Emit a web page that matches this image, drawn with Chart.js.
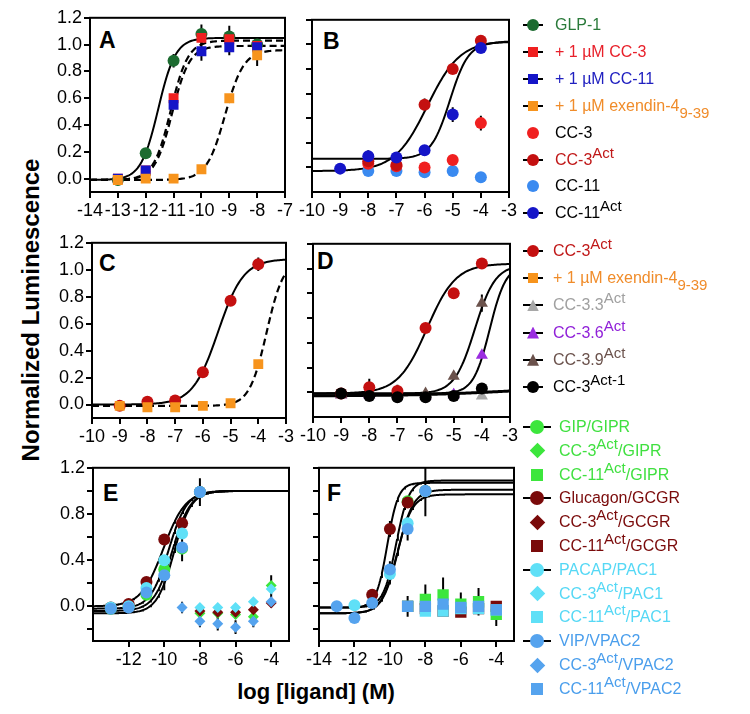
<!DOCTYPE html>
<html>
<head>
<meta charset="utf-8">
<script src="https://cdn.jsdelivr.net/npm/chart.js@4.4.1/dist/chart.umd.min.js"></script>
<style>
  body { margin: 0; background: #fff; width: 750px; height: 714px; position: relative; overflow: hidden;
         font-family: "Liberation Sans", Arial, sans-serif; }
  .letter { position: absolute; font-weight: bold; font-size: 23px; line-height: 23px; }
  .leg { position: absolute; font-size: 16px; line-height: 20px; white-space: nowrap; }
  .leg sup { font-size: 15px; vertical-align: 7px; line-height: 0; }
  .leg sub { font-size: 15px; vertical-align: -7px; line-height: 0; }
  .ln { position: absolute; height: 2px; background: #000; }
  .mk { position: absolute; }
  .title { position: absolute; font-weight: bold; font-size: 22px; white-space: nowrap; transform: translate(-50%, -50%); }
</style>
</head>
<body>
<div class="title" style="left:31px;top:310px;font-size:24px;transform:translate(-50%,-50%) rotate(-90deg)">Normalized Luminescence</div>
<div class="title" style="left:316px;top:692px">log [ligand] (M)</div>
<div class="letter" style="left:99px;top:29px">A</div>
<div class="letter" style="left:323px;top:30px">B</div>
<div class="letter" style="left:99px;top:252px">C</div>
<div class="letter" style="left:317px;top:250px">D</div>
<div class="letter" style="left:103px;top:482px">E</div>
<div class="letter" style="left:327px;top:482px">F</div>
<script>
/* colours */
const C_GLP = "#1c6b30", C_RED = "#f02020", C_BLUE = "#1515c8", C_ORANGE = "#f7941d";
const C_ACT = "#c41010", C_LBLUE = "#3a8af0", C_GRAY = "#a8a8a8", C_PURPLE = "#9b2de0";
const C_BROWN = "#6b524c", C_GIP = "#3ce63c", C_GCG = "#7a0a0a", C_PAC = "#5fe0f7", C_VIP = "#55a3ee";
const FONT = '"Liberation Sans", Arial, sans-serif';

/* tick values */
const xTicksA = [-14, -13, -12, -11, -10, -9, -8, -7];
const xTicksB = [-10, -9, -8, -7, -6, -5, -4, -3];
const xTicksE = [-12, -10, -8, -6, -4];
const xTicksF = [-14, -12, -10, -8, -6, -4];
const yTicksTop = [0, 0.2, 0.4, 0.6, 0.8, 1.0, 1.2];
const yTicksBot = [-0.2, 0, 0.2, 0.4, 0.6, 0.8, 1.0, 1.2];
const yLabelsE = [0, 0.4, 0.8, 1.2];

/* panel A: GLP-1R, agonist +/- antagonists */
const xA = [-13, -12, -11, -10, -9, -8];
const glp1A = [-0.01, 0.19, 0.88, 1.08, 1.06, 1.00];
const glp1ErrA = [0, 0, 0.05, 0.07, 0.08, 0.03];
const cc3sqA = [0.0, 0.06, 0.60, 1.05, 1.04, 0.99];
const cc3sqErrA = [0, 0, 0.03, 0.05, 0.05, 0.02];
const cc11sqA = [0.0, 0.06, 0.55, 0.95, 0.98, 0.98];
const cc11sqErrA = [0, 0, 0.03, 0.07, 0.06, 0.02];
const exA = [-0.01, 0.0, 0.0, 0.07, 0.60, 0.92];
const exErrA = [0, 0, 0, 0, 0.02, 0.08];
// fit params: bottom, top, logEC50, hill
const fitGlp1A = [-0.01, 1.05, -11.55, 1.4];
const fitCc3A = [-0.01, 1.03, -11.1, 1.4];
const fitCc11A = [-0.01, 0.99, -11.05, 1.4];
const fitExA = [-0.01, 0.96, -9.15, 1.3];

/* panel B */
const xB = [-9, -8, -7, -6, -5, -4];
const cc11B = [null, -0.03, -0.03, -0.04, -0.03, -0.08];
const cc3B = [null, 0.03, 0.01, 0.0, 0.06, 0.36];
const cc3ErrB = [0, 0, 0, 0, 0, 0.06];
const cc3ActB = [null, 0.05, 0.02, 0.51, 0.80, 1.03];
const cc3ActErrB = [0, 0, 0.02, 0.05, 0.03, 0.02];
const cc11ActB = [-0.01, 0.09, 0.08, 0.14, 0.43, 0.97];
const cc11ActErrB = [0, 0.05, 0, 0.02, 0.06, 0.02];
const fitCc3ActB = [-0.03, 1.03, -5.9, 0.75];
const fitCc11ActB = [0.07, 1.02, -5.1, 1.3];

/* panel C */
const xC = [-9, -8, -7, -6, -5, -4];
const cc3ActC = [-0.01, 0.02, 0.03, 0.24, 0.77, 1.04];
const cc3ActErrC = [0, 0, 0, 0.02, 0.03, 0.05];
const exC = [-0.01, -0.02, -0.02, -0.01, 0.01, 0.30];
const fitCc3ActC = [0.0, 1.08, -5.45, 0.95];
const fitExC = [-0.01, 1.08, -3.7, 1.4];

/* panel D */
const xD = [-9, -8, -7, -6, -5, -4];
const cc3ActD = [-0.01, 0.04, 0.01, 0.52, 0.80, 1.04];
const cc3ActErrD = [0, 0.07, 0.05, 0.04, 0, 0];
const cc33D = [-0.02, -0.02, -0.02, -0.02, -0.02, -0.03];
const cc36D = [-0.02, -0.02, -0.02, -0.03, -0.02, 0.30];
const cc39D = [-0.02, -0.01, -0.01, -0.01, 0.13, 0.72];
const cc39ErrD = [0, 0, 0, 0, 0, 0.07];
const act1D = [-0.01, -0.03, -0.04, -0.04, -0.03, 0.03];
const fitCc3ActD = [-0.01, 1.04, -5.95, 0.85];
const fitCc39D = [-0.01, 1.03, -4.25, 1.2];
const fitCc36D = [-0.01, 1.03, -3.72, 1.5];
const fitAct1D = [-0.03, 0.05, -3.0, 0.25];

/* panel E: related receptors, native ligands and CC-3Act */
const xE = [-13, -12, -11, -10, -9, -8];
const gipE = [-0.02, 0.0, 0.10, 0.32, 0.50, 0.99];
const gcgE = [-0.01, 0.02, 0.21, 0.58, 0.72, 0.99];
const pacE = [-0.01, 0.0, 0.16, 0.40, 0.63, 0.99];
const vipE = [-0.02, -0.01, 0.12, 0.27, 0.51, 0.99];
const vipErrE = [0.03, 0.03, 0.02, 0.13, 0.12, 0.12];
const fitGcgE = [0.0, 1.0, -10.05, 0.7];
const fitPacE = [-0.02, 1.0, -9.75, 0.85];
const fitGipE = [-0.04, 1.0, -9.55, 0.85];
const fitVipE = [-0.06, 1.0, -9.45, 0.9];
const xE2 = [-9, -8, -7, -6, -5, -4];
const gipDiaE = [null, -0.06, -0.06, -0.07, -0.09, 0.18];
const gipDiaErrE = [0, 0.04, 0.04, 0.04, 0.04, 0.09];
const gcgDiaE = [null, -0.04, -0.05, -0.05, -0.03, 0.03];
const pacDiaE = [null, -0.01, -0.01, -0.01, 0.04, 0.15];
const vipDiaE = [-0.01, -0.13, -0.15, -0.18, -0.13, 0.04];
const vipDiaErrE = [0.05, 0.05, 0.06, 0.06, 0.05, 0.05];

/* panel F: native ligands and CC-11Act */
const xF = [-13, -12, -11, -10, -9, -8];
const gipF = [null, null, null, null, 0.91, 1.0];
const gcgF = [null, null, 0.10, 0.67, 0.90, 1.0];
const gcgErrF = [0, 0, 0, 0.07, 0, 0];
const pacF = [null, 0.01, null, 0.28, 0.72, 1.0];
const vipF = [0.0, -0.10, 0.03, 0.32, 0.67, 1.0];
const vipErrF = [0.04, 0, 0, 0.07, 0.1, 0.22];
const fitGcgF = [-0.01, 1.07, -10.15, 1.4];
const fitGipF = [-0.01, 1.09, -9.65, 1.2];
const fitPacF = [-0.06, 0.97, -9.6, 1.0];
const fitVipF = [-0.06, 1.01, -9.55, 1.0];
const xF2 = [-9, -8, -7, -6, -5, -4];
const gipSqF = [0.0, 0.06, 0.10, 0.02, 0.04, -0.07];
const gipSqErrF = [0.09, 0.13, 0.15, 0.1, 0.12, 0.1];
const gcgSqF = [0.0, -0.02, -0.04, -0.05, -0.02, 0.0];
const pacSqF = [0.0, -0.04, -0.04, -0.02, -0.02, -0.03];
const vipSqF = [0.0, 0.0, 0.02, -0.01, 0.0, -0.03];

/* helpers */
function logistic(p, x) { return p[0] + (p[1] - p[0]) / (1 + Math.pow(10, (p[2] - x) * p[3])); }
function curve(p, x0, x1) {
    const out = [];
    for (let x = x0; x <= x1 + 1e-9; x += 0.05) out.push({ x: x, y: logistic(p, x) });
    return out;
}
function pts(xs, ys, es) {
    const out = [];
    xs.forEach(function(x, i) { if (ys[i] !== null) out.push({ x: x, y: ys[i], e: es ? es[i] : 0 }); });
    return out;
}
function fitSet(p, x0, x1, dashed, w) {
    return { data: curve(p, x0, x1), showLine: true, pointRadius: 0, borderColor: "#000",
             borderWidth: w || 2, borderDash: dashed ? [7, 4] : [], fill: false };
}
function dotSet(xs, ys, es, color, style, r) {
    return { data: pts(xs, ys, es), showLine: false, pointStyle: style, pointRadius: r,
             backgroundColor: color, borderColor: color, borderWidth: 0 };
}

const framePlugin = {
    id: "frame",
    afterDraw(chart) {
        const a = chart.chartArea, c = chart.ctx;
        c.save(); c.strokeStyle = "#000"; c.lineWidth = 2;
        c.strokeRect(a.left, a.top, a.right - a.left, a.bottom - a.top);
        c.restore();
    }
};
const errPlugin = {
    id: "errbars",
    beforeDatasetsDraw(chart) {
        const a = chart.chartArea, c = chart.ctx, sx = chart.scales.x, sy = chart.scales.y;
        c.save();
        c.beginPath(); c.rect(a.left, a.top, a.right - a.left, a.bottom - a.top); c.clip();
        c.strokeStyle = "#000"; c.lineWidth = 2;
        chart.data.datasets.forEach(function(ds) {
            ds.data.forEach(function(p) {
                if (p.e > 0) {
                    const px = sx.getPixelForValue(p.x);
                    c.beginPath();
                    c.moveTo(px, sy.getPixelForValue(p.y - p.e));
                    c.lineTo(px, sy.getPixelForValue(p.y + p.e));
                    c.stroke();
                }
            });
        });
        c.restore();
    }
};

function axis(min, max, tickVals, fmt, isX) {
    return {
        type: "linear", min: min, max: max,
        afterBuildTicks: function(s) { s.ticks = tickVals.map(function(v) { return { value: v }; }); },
        afterFit: function(s) { if (isX) s.height = 32; else s.width = 45; },
        ticks: { autoSkip: false, maxRotation: 0, minRotation: 0, color: "#000",
                 font: { family: FONT, size: 18 }, padding: 2, callback: fmt },
        grid: { drawOnChartArea: false, drawTicks: true, tickLength: 6, tickWidth: 2, tickColor: "#000", color: "#000", lineWidth: 2 },
        border: { display: true, color: "#000", width: 2 }
    };
}
const fmtX = function(v) { return String(v); };
const fmtY = function(v) { return v.toFixed(1); };
const fmtNone = function() { return ""; };
const fmtE = function(v) { return yLabelsE.some(function(t) { return Math.abs(t - v) < 1e-6; }) ? v.toFixed(1) : ""; };

function panel(box, xr, yr, xt, yt, fx, fy, datasets) {
    const L = box[0], T = box[1], R = box[2], B = box[3];
    const cv = document.createElement("canvas");
    cv.width = (R - L) + 45 + 16;
    cv.height = (B - T) + 12 + 32;
    cv.style.position = "absolute";
    cv.style.left = (L - 45) + "px";
    cv.style.top = (T - 12) + "px";
    document.body.appendChild(cv);
    datasets.forEach(function(d, i) { d.order = -i; });
    const ch = new Chart(cv, {
        type: "scatter",
        data: { datasets: datasets },
        options: {
            responsive: false, animation: false, events: [],
            layout: { padding: { top: 12, right: 16, left: 0, bottom: 0 } },
            plugins: { legend: { display: false }, tooltip: { enabled: false } },
            scales: { x: axis(xr[0], xr[1], xt, fx, true), y: axis(yr[0], yr[1], yt, fy, false) }
        },
        plugins: [errPlugin, framePlugin]
    });
    const a = ch.chartArea;
    cv.style.left = (L - a.left) + "px";
    cv.style.top = (T - a.top) + "px";
    return ch;
}

/* A */
panel([90, 18, 285, 193], [-14, -7], [-0.1, 1.2], xTicksA, yTicksTop, fmtX, fmtY, [
    fitSet(fitExA, -14, -7, true, 2.2),
    fitSet(fitCc11A, -14, -7, true, 2.2),
    fitSet(fitCc3A, -14, -7, true, 2.2),
    fitSet(fitGlp1A, -14, -7, false, 2),
    dotSet(xA, glp1A, glp1ErrA, C_GLP, "circle", 6),
    dotSet(xA, cc3sqA, cc3sqErrA, C_RED, "rect", 7),
    dotSet(xA, cc11sqA, cc11sqErrA, C_BLUE, "rect", 7),
    dotSet(xA, exA, exErrA, C_ORANGE, "rect", 7)
]);

/* B */
panel([312, 20, 509, 193], [-10, -3], [-0.2, 1.2], xTicksB, yTicksTop, fmtX, fmtNone, [
    fitSet(fitCc3ActB, -10, -3, false, 2),
    fitSet(fitCc11ActB, -10, -3, false, 2),
    dotSet(xB, cc11B, null, C_LBLUE, "circle", 6),
    dotSet(xB, cc3B, cc3ErrB, C_RED, "circle", 6),
    dotSet(xB, cc3ActB, cc3ActErrB, C_ACT, "circle", 6),
    dotSet(xB, cc11ActB, cc11ActErrB, C_BLUE, "circle", 6)
]);

/* C */
panel([92, 243, 286, 419], [-10, -3], [-0.1, 1.2], xTicksB, yTicksTop, fmtX, fmtY, [
    fitSet(fitExC, -10, -3, true, 2.2),
    fitSet(fitCc3ActC, -10, -3, false, 2),
    dotSet(xC, cc3ActC, cc3ActErrC, C_ACT, "circle", 6),
    dotSet(xC, exC, null, C_ORANGE, "rect", 7)
]);

/* D */
panel([313, 244, 510, 418], [-10, -3], [-0.2, 1.2], xTicksB, yTicksTop, fmtX, fmtNone, [
    fitSet(fitCc3ActD, -10, -3, false, 2),
    fitSet(fitCc39D, -10, -3, false, 2),
    fitSet(fitCc36D, -10, -3, false, 2),
    fitSet(fitAct1D, -10, -3, false, 3),
    dotSet(xD, cc33D, null, C_GRAY, "triangle", 7),
    dotSet(xD, cc36D, null, C_PURPLE, "triangle", 7),
    dotSet(xD, cc39D, cc39ErrD, C_BROWN, "triangle", 7),
    dotSet(xD, cc3ActD, cc3ActErrD, C_ACT, "circle", 6),
    dotSet(xD, act1D, null, "#000", "circle", 6)
]);

/* E */
panel([93, 468, 289, 642], [-14, -3], [-0.3, 1.2], xTicksE, yTicksBot, fmtX, fmtE, [
    fitSet(fitGcgE, -14, -3, false, 2),
    fitSet(fitPacE, -14, -3, false, 2),
    fitSet(fitGipE, -14, -3, false, 2),
    fitSet(fitVipE, -14, -3, false, 2),
    dotSet(xE, gipE, null, C_GIP, "circle", 6),
    dotSet(xE, gcgE, null, C_GCG, "circle", 6),
    dotSet(xE, pacE, null, C_PAC, "circle", 6),
    dotSet(xE, vipE, vipErrE, C_VIP, "circle", 6),
    dotSet(xE2, gipDiaE, gipDiaErrE, C_GIP, "rectRot", 5.5),
    dotSet(xE2, gcgDiaE, null, C_GCG, "rectRot", 5.5),
    dotSet(xE2, pacDiaE, null, C_PAC, "rectRot", 5.5),
    dotSet(xE2, vipDiaE, vipDiaErrE, C_VIP, "rectRot", 5.5)
]);

/* F */
panel([319, 468, 514, 642], [-14, -3], [-0.3, 1.2], xTicksF, yTicksBot, fmtX, fmtNone, [
    fitSet(fitGcgF, -14, -3, false, 2),
    fitSet(fitGipF, -14, -3, false, 2),
    fitSet(fitPacF, -14, -3, false, 2),
    fitSet(fitVipF, -14, -3, false, 2),
    dotSet(xF, gipF, null, C_GIP, "circle", 6),
    dotSet(xF, gcgF, gcgErrF, C_GCG, "circle", 6),
    dotSet(xF, pacF, null, C_PAC, "circle", 6),
    dotSet(xF, vipF, vipErrF, C_VIP, "circle", 6),
    dotSet(xF2, gipSqF, gipSqErrF, C_GIP, "rect", 8),
    dotSet(xF2, gcgSqF, null, C_GCG, "rect", 8),
    dotSet(xF2, pacSqF, null, C_PAC, "rect", 8),
    dotSet(xF2, vipSqF, null, C_VIP, "rect", 8)
]);

/* legends: [label, marker colour, text colour, shape, line] */
const legendTop = [
    ["GLP-1", C_GLP, "#2a7a3a", "circle", true],
    ["+ 1 µM CC-3", C_RED, "#e8202a", "square", true],
    ["+ 1 µM CC-11", C_BLUE, "#2020c0", "square", true],
    ["+ 1 µM exendin-4<sub>9-39</sub>", C_ORANGE, "#f08c2a", "square", true],
    ["CC-3", C_RED, "#000", "circle", false],
    ["CC-3<sup>Act</sup>", C_ACT, "#c01818", "circle", true],
    ["CC-11", C_LBLUE, "#000", "circle", false],
    ["CC-11<sup>Act</sup>", C_BLUE, "#000", "circle", true]
];
const legendMid = [
    ["CC-3<sup>Act</sup>", C_ACT, "#c01818", "circle", true],
    ["+ 1 µM exendin-4<sub>9-39</sub>", C_ORANGE, "#f08c2a", "square", true],
    ["CC-3.3<sup>Act</sup>", C_GRAY, "#a0a0a0", "triangle", true],
    ["CC-3.6<sup>Act</sup>", C_PURPLE, "#9020d8", "triangle", true],
    ["CC-3.9<sup>Act</sup>", C_BROWN, "#6b524c", "triangle", true],
    ["CC-3<sup>Act-1</sup>", "#000", "#000", "circle", true]
];
const legendBot = [
    ["GIP/GIPR", C_GIP, "#40e040", "circle", true],
    ["CC-3<sup>Act</sup>/GIPR", C_GIP, "#40e040", "diamond", false],
    ["CC-11<sup>Act</sup>/GIPR", C_GIP, "#40e040", "square", false],
    ["Glucagon/GCGR", C_GCG, "#7a0a0a", "circle", true],
    ["CC-3<sup>Act</sup>/GCGR", C_GCG, "#7a0a0a", "diamond", false],
    ["CC-11<sup>Act</sup>/GCGR", C_GCG, "#7a0a0a", "square", false],
    ["PACAP/PAC1", C_PAC, "#55d8f5", "circle", true],
    ["CC-3<sup>Act</sup>/PAC1", C_PAC, "#55d8f5", "diamond", false],
    ["CC-11<sup>Act</sup>/PAC1", C_PAC, "#55d8f5", "square", false],
    ["VIP/VPAC2", C_VIP, "#4a9eec", "circle", true],
    ["CC-3<sup>Act</sup>/VPAC2", C_VIP, "#4a9eec", "diamond", false],
    ["CC-11<sup>Act</sup>/VPAC2", C_VIP, "#4a9eec", "square", false]
];

function addLegend(items, textX, lineX0, lineX1, y0, gap, size) {
    const mx = (lineX0 + lineX1) / 2;
    items.forEach(function(it, i) {
        const cy = y0 + i * gap;
        if (it[4]) {
            const ln = document.createElement("div");
            ln.className = "ln";
            ln.style.left = lineX0 + "px"; ln.style.width = (lineX1 - lineX0) + "px"; ln.style.top = (cy - 1) + "px";
            document.body.appendChild(ln);
        }
        const m = document.createElement("div");
        m.className = "mk";
        let w = size, h = size;
        if (it[3] === "square") { w = h = size - 2; }
        if (it[3] === "diamond") { w = h = size - 3; }
        m.style.width = w + "px"; m.style.height = h + "px";
        m.style.left = (mx - w / 2) + "px"; m.style.top = (cy - h / 2) + "px";
        m.style.background = it[1];
        if (it[3] === "circle") m.style.borderRadius = "50%";
        if (it[3] === "diamond") m.style.transform = "rotate(45deg)";
        if (it[3] === "triangle") m.style.clipPath = "polygon(50% 0, 100% 100%, 0 100%)";
        document.body.appendChild(m);
        const t = document.createElement("div");
        t.className = "leg";
        t.style.left = textX + "px"; t.style.top = (cy - 10) + "px"; t.style.color = it[2];
        t.innerHTML = it[0];
        document.body.appendChild(t);
    });
}
addLegend(legendTop, 555, 523, 543, 25, 26.9, 12);
addLegend(legendMid, 553, 523, 543, 251, 27.2, 12);
addLegend(legendBot, 559, 523, 551, 427, 23.8, 14);
</script>
</body>
</html>
